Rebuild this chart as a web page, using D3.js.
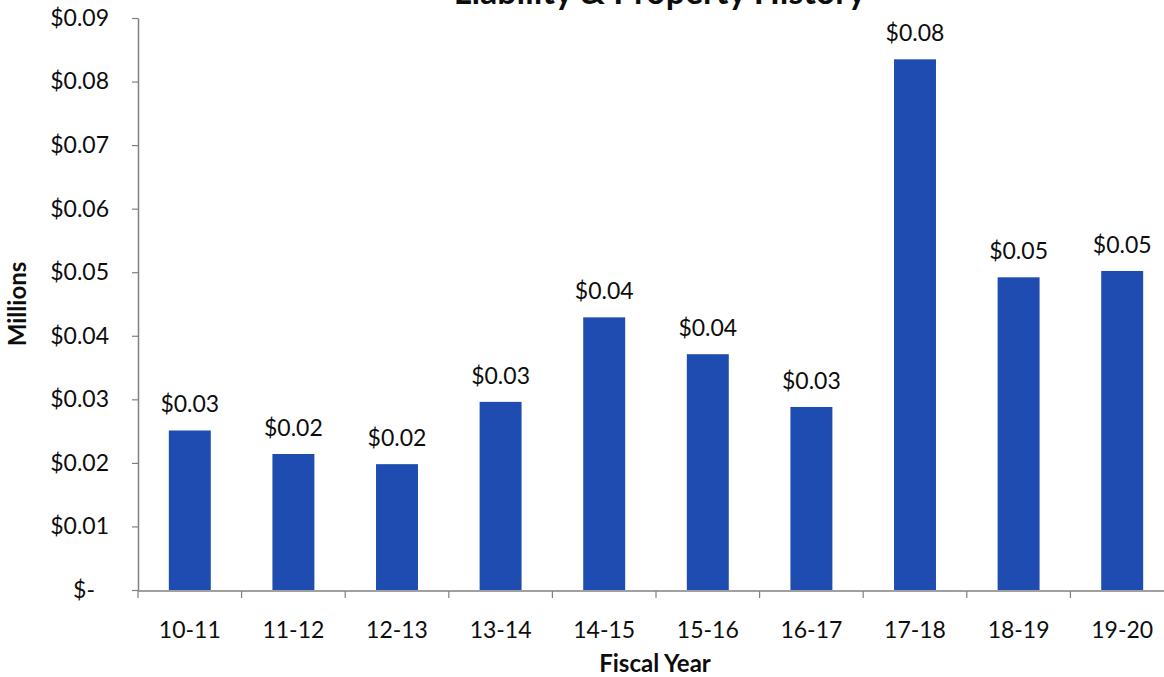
<!DOCTYPE html>
<html>
<head>
<meta charset="utf-8">
<script src="https://cdn.jsdelivr.net/npm/d3@7"></script>
<style>
  html, body { margin: 0; padding: 0; background: #fff; }
  svg { display: block; font-family: Lato, "Open Sans", sans-serif; }
</style>
</head>
<body>
<svg id="chart" width="1164" height="677"></svg>
<script>
// Fiscal years and annual totals (in millions of dollars)
const fiscalYears = ["10-11", "11-12", "12-13", "13-14", "14-15", "15-16", "16-17", "17-18", "18-19", "19-20"];
const amounts = [0.0251, 0.0214, 0.0198, 0.0296, 0.0429, 0.0371, 0.0288, 0.0835, 0.0492, 0.0502];
const yTicks = [0, 0.01, 0.02, 0.03, 0.04, 0.05, 0.06, 0.07, 0.08, 0.09];
const chartTitle = "Liability & Property History";
const xTitle = "Fiscal Year";
const yTitle = "Millions";

const data = fiscalYears.map((fy, i) => ({ fy, value: amounts[i] }));

const svg = d3.select("#chart");
const axisColor = "#808080";
const barColor = "#1f4cb0";
const textColor = "#0d0d0d";
const labelSize = 23;

const x = d3.scaleBand()
  .domain(fiscalYears)
  .range([138, 1174])
  .paddingInner(0.595)
  .paddingOuter(0.2975);

const y = d3.scaleLinear()
  .domain([0, 0.09])
  .range([590, 18]);

const money = d3.format("$.2f");
const tickFmt = v => v === 0 ? "$-" : money(v);

// Title (runs off the top edge)
svg.append("text")
  .attr("x", 866)
  .attr("y", 4)
  .attr("text-anchor", "end")
  .attr("font-size", 34)
  .attr("font-weight", 700)
  .attr("fill", textColor)
  .text(chartTitle);

// Bars
svg.append("g")
  .selectAll("rect")
  .data(data)
  .join("rect")
  .attr("x", d => x(d.fy))
  .attr("y", d => y(d.value))
  .attr("width", x.bandwidth())
  .attr("height", d => y(0) - y(d.value))
  .attr("fill", barColor);

// Value labels
svg.append("g")
  .selectAll("text")
  .data(data)
  .join("text")
  .attr("x", d => x(d.fy) + x.bandwidth() / 2)
  .attr("y", d => y(d.value) - 18)
  .attr("text-anchor", "middle")
  .attr("font-size", labelSize)
  .attr("fill", textColor)
  .text(d => money(d.value));

// Y axis
const yAxis = svg.append("g")
  .attr("transform", "translate(138,0)")
  .call(d3.axisLeft(y).tickValues(yTicks).tickFormat(tickFmt).tickSize(6).tickPadding(23).tickSizeOuter(0));
yAxis.select(".domain").attr("stroke", axisColor).attr("stroke-width", 1.5);
yAxis.selectAll(".tick line").attr("stroke", axisColor).attr("stroke-width", 1.2);
yAxis.selectAll(".tick text")
  .attr("font-size", labelSize)
  .attr("font-family", "Lato, 'Open Sans', sans-serif")
  .attr("fill", textColor)
  .attr("dx", d => d === 0 ? -14 : 0);

// X axis with ticks at the category boundaries
const xAxis = svg.append("g")
  .attr("transform", "translate(0,591)");
xAxis.append("line")
  .attr("x1", 138).attr("x2", 1164)
  .attr("stroke", axisColor).attr("stroke-width", 1.5);
const step = x.step();
xAxis.selectAll("line.tk")
  .data(fiscalYears)
  .join("line")
  .attr("class", "tk")
  .attr("x1", d => x(d) - x.paddingInner() * step / 2)
  .attr("x2", d => x(d) - x.paddingInner() * step / 2)
  .attr("y1", 0).attr("y2", 7)
  .attr("stroke", axisColor).attr("stroke-width", 1.2);
xAxis.selectAll("text")
  .data(fiscalYears)
  .join("text")
  .attr("x", d => x(d) + x.bandwidth() / 2)
  .attr("y", 47)
  .attr("text-anchor", "middle")
  .attr("font-size", labelSize)
  .attr("fill", textColor)
  .text(d => d);

// Axis titles
svg.append("text")
  .attr("x", 655)
  .attr("y", 672)
  .attr("text-anchor", "middle")
  .attr("font-size", 24)
  .attr("font-weight", 700)
  .attr("fill", textColor)
  .text(xTitle);

svg.append("text")
  .attr("transform", "translate(26,304) rotate(-90)")
  .attr("text-anchor", "middle")
  .attr("font-size", 24)
  .attr("font-weight", 700)
  .attr("fill", textColor)
  .text(yTitle);
</script>
</body>
</html>
